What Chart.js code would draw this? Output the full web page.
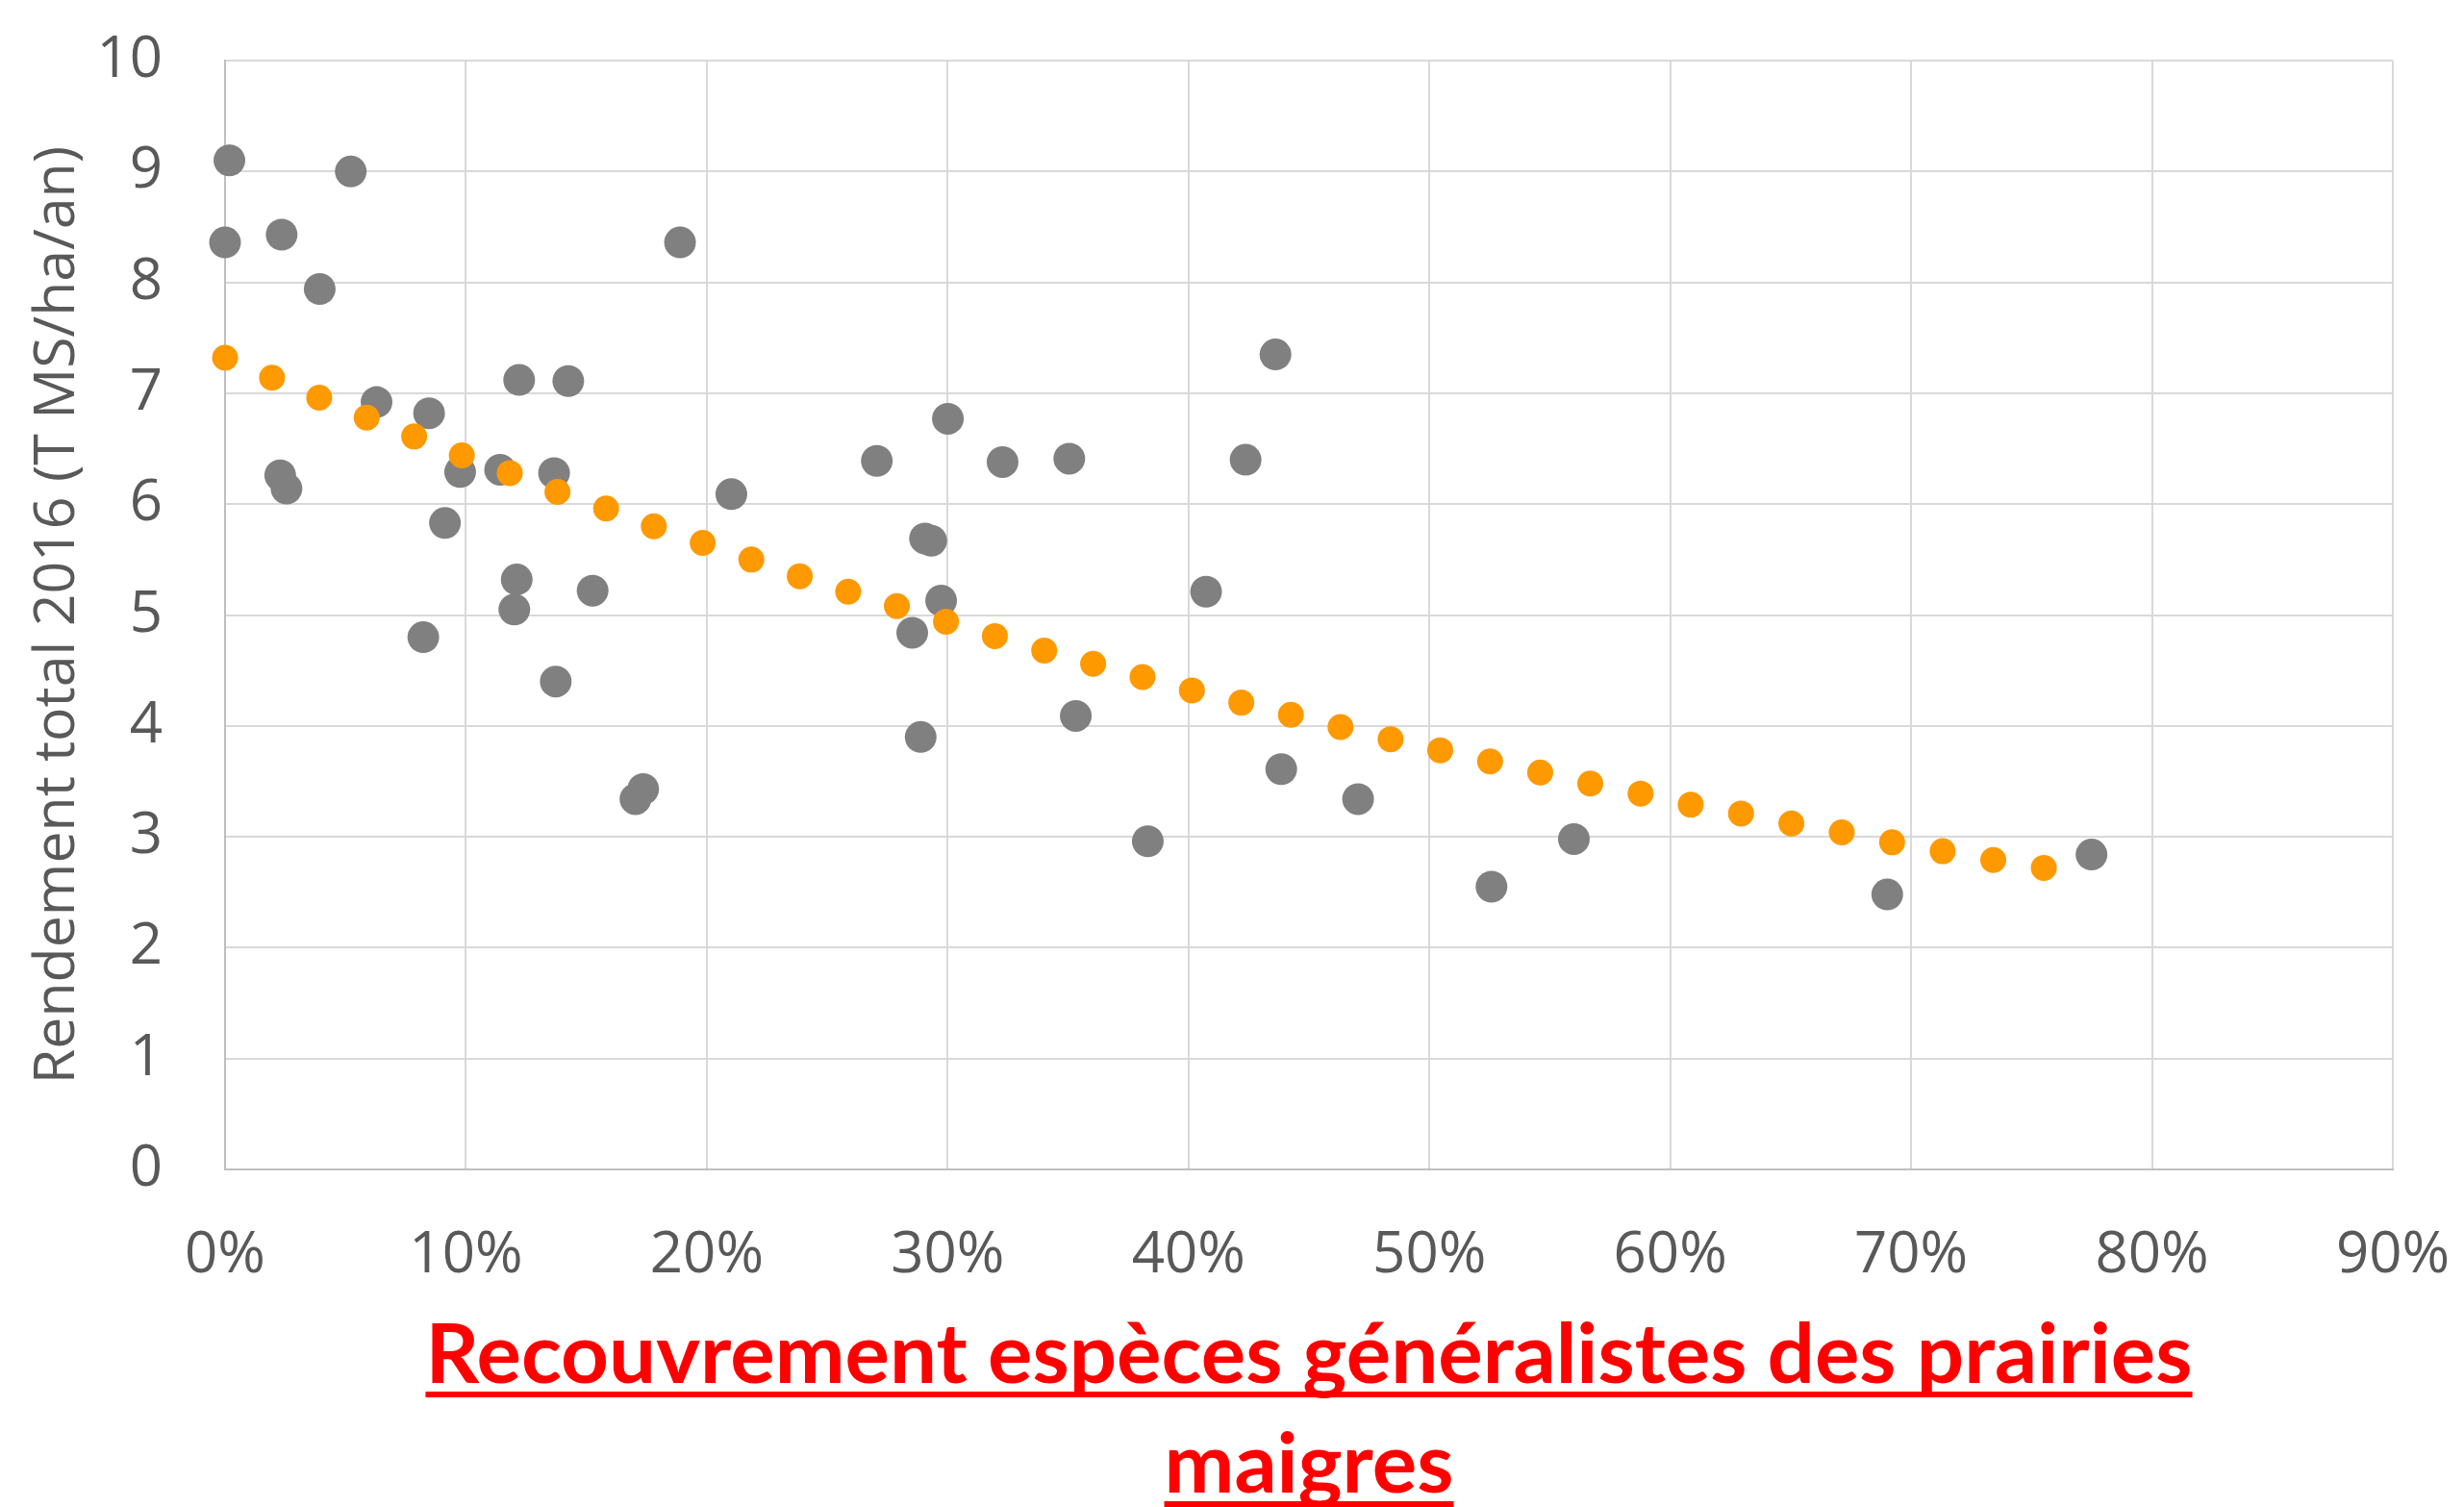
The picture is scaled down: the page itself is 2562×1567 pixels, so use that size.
<!DOCTYPE html>
<html>
<head>
<meta charset="utf-8">
<script src="https://cdn.jsdelivr.net/npm/chart.js@4"></script>
<style>
  html, body { margin: 0; padding: 0; background: #fff; }
  canvas { display: block; }
</style>
</head>
<body>
<canvas id="graphique" width="2562" height="1567"></canvas>
<script>
// Recouvrement (%) et rendement mesurés
const grisX = [0.18, 5.22, 0.0, 2.35, 3.93, 18.89, 12.21, 14.25, 6.29, 8.47,
  2.29, 2.55, 9.76, 11.42, 13.66, 9.13, 21.02, 12.11, 12.01, 15.26,
  8.23, 13.73, 17.36, 17.04, 43.61, 30.01, 27.06, 32.28, 35.05, 42.37,
  29.06, 29.32, 40.73, 29.73, 28.53, 35.32, 28.88, 43.85, 38.31, 47.04,
  52.58, 56.0, 69.01, 77.49];
const grisY = [9.10, 9.00, 8.36, 8.43, 7.94, 8.36, 7.12, 7.11, 6.92, 6.82,
  6.26, 6.14, 6.29, 6.31, 6.28, 5.83, 6.09, 5.32, 5.05, 5.22,
  4.80, 4.40, 3.43, 3.34, 7.35, 6.77, 6.39, 6.38, 6.41, 6.40,
  5.69, 5.67, 5.21, 5.13, 4.84, 4.09, 3.90, 3.61, 2.96, 3.34,
  2.55, 2.98, 2.48, 2.84];

// valeurs ajustées (points orange)
const orangeX = [0, 1.95, 3.91, 5.88, 7.85, 9.83, 11.82, 13.80, 15.82, 17.80,
  19.83, 21.85, 23.86, 25.87, 27.89, 29.93, 31.96, 34.01, 36.04, 38.09,
  40.14, 42.19, 44.25, 46.31, 48.39, 50.45, 52.52, 54.60, 56.68, 58.77,
  60.85, 62.94, 65.03, 67.12, 69.21, 71.31, 73.41, 75.51];
const orangeY = [7.32, 7.14, 6.96, 6.78, 6.61, 6.44, 6.28, 6.11, 5.96, 5.80,
  5.65, 5.50, 5.35, 5.21, 5.08, 4.94, 4.81, 4.68, 4.56, 4.44,
  4.32, 4.21, 4.10, 3.99, 3.88, 3.78, 3.68, 3.58, 3.48, 3.39,
  3.29, 3.21, 3.12, 3.04, 2.95, 2.87, 2.79, 2.72];

const ticksX = [0, 10, 20, 30, 40, 50, 60, 70, 80, 90];
const ticksY = [0, 1, 2, 3, 4, 5, 6, 7, 8, 9, 10];

const titreY = 'Rendement total 2016 (T MS/ha/an)';
const titreLignes = ['Recouvrement espèces généralistes des prairies', 'maigres'];

// titre de l'axe X, en rouge souligné
const titreX = {
  id: 'titreX',
  afterDraw(chart) {
    const ctx = chart.ctx;
    const a = chart.chartArea;
    const cx = (a.left + a.right) / 2;
    ctx.save();
    ctx.font = 'bold 87px Lato';
    ctx.fillStyle = '#FF0000';
    ctx.textAlign = 'center';
    ctx.textBaseline = 'alphabetic';
    titreLignes.forEach(function (ligne, i) {
      const y = a.bottom + 222 + i * 114;
      ctx.fillText(ligne, cx, y);
      const w = ctx.measureText(ligne).width;
      ctx.fillRect(cx - w / 2, y + 9, w, 6);
    });
    ctx.restore();
  }
};

Chart.defaults.font.family = 'Open Sans';
Chart.defaults.color = '#595959';

const ctx = document.getElementById('graphique').getContext('2d');
const myChart = new Chart(ctx, {
  type: 'scatter',
  data: {
    datasets: [{
      label: 'ajusté',
      data: orangeX.map(function (x, i) { return { x: x, y: orangeY[i] }; }),
      backgroundColor: '#FF9900',
      borderWidth: 0,
      pointRadius: 13.5,
      order: 0,
      clip: false
    }, {
      label: 'mesuré',
      data: grisX.map(function (x, i) { return { x: x, y: grisY[i] }; }),
      backgroundColor: '#808080',
      borderWidth: 0,
      pointRadius: 16.5,
      order: 1,
      clip: false
    }]
  },
  options: {
    responsive: false,
    animation: false,
    devicePixelRatio: 1,
    layout: { padding: { top: 63, right: 74, bottom: 0, left: 0 } },
    plugins: {
      legend: { display: false },
      tooltip: { enabled: false }
    },
    scales: {
      x: {
        type: 'linear',
        min: 0,
        max: 90,
        afterBuildTicks: function (s) { s.ticks = ticksX.map(function (v) { return { value: v }; }); },
        afterFit: function (s) { s.height = 351; },
        ticks: {
          padding: 4,
          font: { size: 60 },
          callback: function (v) { return v + '%'; }
        },
        grid: { color: '#D9D9D9', lineWidth: 2, drawTicks: true, tickLength: 50, tickColor: 'rgba(0,0,0,0)' },
        border: { color: '#BFBFBF', width: 2 }
      },
      y: {
        min: 0,
        max: 10,
        afterBuildTicks: function (s) { s.ticks = ticksY.map(function (v) { return { value: v }; }); },
        afterFit: function (s) { s.width = 234; },
        ticks: {
          padding: 5,
          font: { size: 60 }
        },
        grid: { color: '#D9D9D9', lineWidth: 2, drawTicks: true, tickLength: 60, tickColor: 'rgba(0,0,0,0)' },
        border: { color: '#BFBFBF', width: 2 },
        title: {
          display: true,
          text: titreY,
          font: { size: 59 },
          color: '#595959',
          padding: { top: 25, bottom: 0 }
        }
      }
    }
  },
  plugins: [titreX]
});
</script>
</body>
</html>
